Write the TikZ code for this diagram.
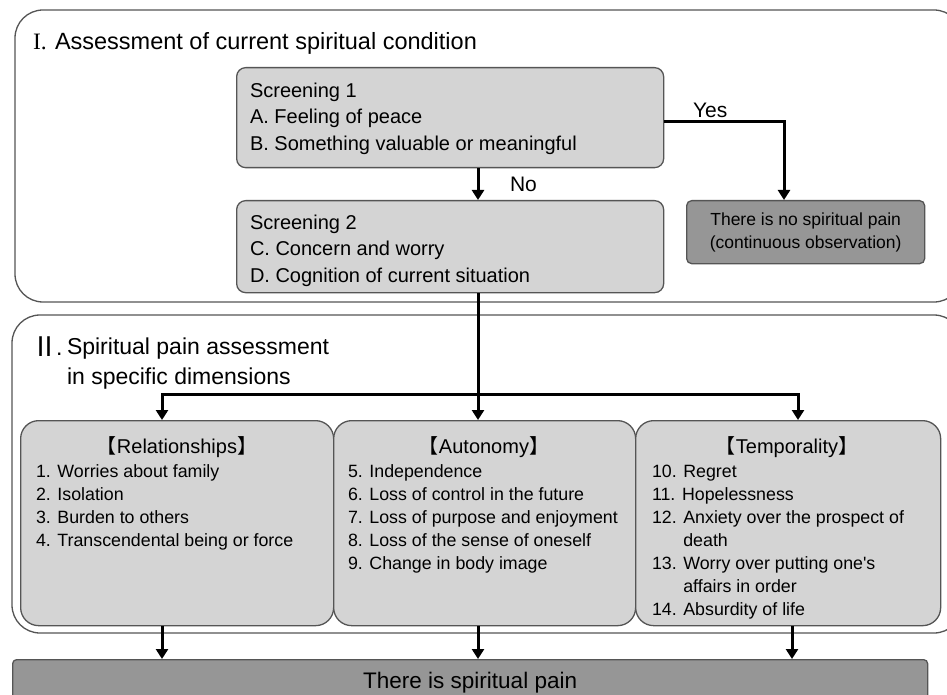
\documentclass[tikz,border=0pt]{standalone}
\usepackage{fontspec}
\setmainfont{Liberation Sans}
\newfontfamily\cjk{Noto Sans CJK JP}
\newfontfamily\numserif{Liberation Serif}
\usetikzlibrary{arrows.meta}
\definecolor{lightfill}{RGB}{212,212,212}
\definecolor{darkfill}{RGB}{150,150,150}
\definecolor{edgegray}{RGB}{85,85,85}
\begin{document}
\begin{tikzpicture}[x=1pt,y=-1pt,
  panel/.style={draw=edgegray, line width=1.3pt, rounded corners=28pt},
  lightbox/.style={draw=edgegray, line width=1.3pt, fill=lightfill, rounded corners=9pt, inner sep=0pt, anchor=north west},
  darkbox/.style={draw=edgegray, line width=1.3pt, fill=darkfill, rounded corners=5pt, inner sep=0pt, anchor=north west, align=center},
  catbox/.style={lightbox, rounded corners=18pt, minimum height=205pt},
  txt/.style={inner sep=0pt, outer sep=0pt, align=left},
  arr/.style={draw=black, line width=3pt, -{Triangle[width=12pt,length=10pt]}}
]
\useasboundingbox (0,0) rectangle (947,695);
\fill[white] (0,0) rectangle (947,695);

% panels
\draw[panel] (15,10) rectangle (962,302);
\draw[panel] (12,315) rectangle (962,633);

% panel I
\node[txt, anchor=base west, font=\fontsize{23.5}{28}\numserif] (numI) at (33,50) {I.};
\node[txt, anchor=base west, font=\fontsize{23.5}{28}\selectfont] (titleI) at (55,50) {Assessment of current spiritual condition};

\node[lightbox, minimum width=427pt, minimum height=100pt] (s1) at (236,67) {};
\node[txt, anchor=north west, font=\fontsize{20}{26.5}\selectfont] (s1t) at (250,83)
  {Screening 1\\A. Feeling of peace\\B. Something valuable or meaningful};
\node[lightbox, minimum width=427pt, minimum height=92pt] (s2) at (236,200) {};
\node[txt, anchor=north west, font=\fontsize{20}{26.5}\selectfont] (s2t) at (250,215)
  {Screening 2\\C. Concern and worry\\D. Cognition of current situation};
\node[darkbox, minimum width=238pt, minimum height=63pt, font=\fontsize{17.5}{23}\selectfont] (nopain) at (686,200)
  {There is no spiritual pain\\(continuous observation)};

\node[txt, anchor=base west, font=\fontsize{21}{25}\selectfont] (yes) at (693,118) {Yes};
\node[txt, anchor=base west, font=\fontsize{21}{25}\selectfont] (no) at (510,192) {No};

% panel II
\node[txt, anchor=base west, font=\fontsize{27}{30}\cjk] (numII) at (31,356) {Ⅱ};
\node[txt, anchor=base west, font=\fontsize{23}{28}\selectfont] (dotII) at (56,355) {.};
\node[txt, anchor=north west, font=\fontsize{23}{30}\selectfont] (titleII) at (67,338)
  {Spiritual pain assessment\\in specific dimensions};

\node[catbox, minimum width=313pt] (rel) at (20,420) {};
\node[catbox, minimum width=302pt] (aut) at (333,420) {};
\node[catbox, minimum width=305pt] (tem) at (635,420) {};

\node[txt, anchor=base, font=\fontsize{20}{24}\selectfont] (relh) at (177,453) {{\cjk 【}Relationships{\cjk 】}};
\node[txt, anchor=base, font=\fontsize{20}{24}\selectfont] (auth) at (484,453) {{\cjk 【}Autonomy{\cjk 】}};
\node[txt, anchor=base, font=\fontsize{20}{24}\selectfont] (temh) at (787,453) {{\cjk 【}Temporality{\cjk 】}};

\node[txt, anchor=north west, font=\fontsize{17.8}{23}\selectfont] (relt) at (36,465)
  {1. Worries about family\\2. Isolation\\3. Burden to others\\4. Transcendental being or force};
\node[txt, anchor=north west, font=\fontsize{17.8}{23}\selectfont] (autt) at (348,465)
  {5. Independence\\6. Loss of control in the future\\7. Loss of purpose and enjoyment\\8. Loss of the sense of oneself\\9. Change in body image};
\node[txt, anchor=north west, font=\fontsize{17.8}{23}\selectfont] (temt) at (652,465)
  {10. Regret\\11. Hopelessness\\12. Anxiety over the prospect of\\\hphantom{12. }death\\13. Worry over putting one\textquotesingle s\\\hphantom{13. }affairs in order\\14. Absurdity of life};

% bottom
\node[darkbox, minimum width=915pt, minimum height=46pt, rounded corners=4pt, font=\fontsize{22.5}{27}\selectfont] (pain) at (12,659) {There is spiritual pain};

% connectors
\coordinate (cx) at (478,0);
\coordinate (lx) at (162,0);
\coordinate (rx) at (798,0);
\coordinate (rxb) at (792,0);
\coordinate (yx) at (784,0);
\coordinate (yy) at (0,122);
\coordinate (by) at (0,394);

\draw[arr] (s1.south -| cx) -- (s2.north -| cx);
\draw[arr] (s1.east |- yy) -| (nopain.north -| yx);
\draw[arr] (s2.south -| cx) -- (aut.north -| cx);
\draw[arr] (cx |- by) -| (rel.north -| lx);
\draw[arr] (cx |- by) -| (tem.north -| rx);

\draw[arr] (rel.south -| lx) -- (pain.north -| lx);
\draw[arr] (aut.south -| cx) -- (pain.north -| cx);
\draw[arr] (tem.south -| rxb) -- (pain.north -| rxb);
\end{tikzpicture}
\end{document}
